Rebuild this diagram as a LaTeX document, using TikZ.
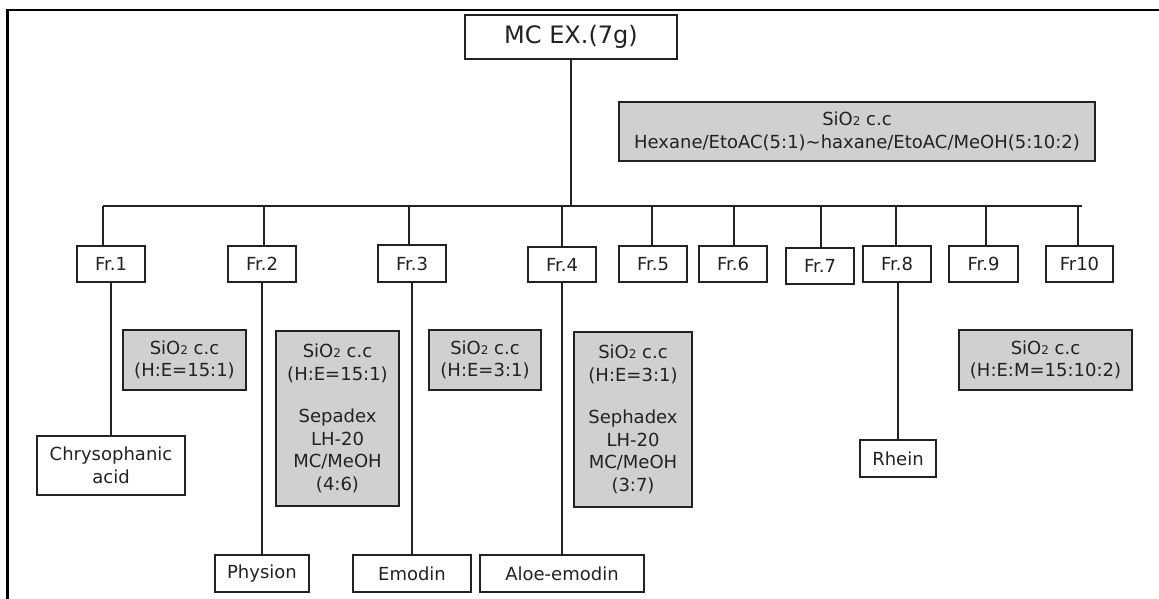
\documentclass[tikz,border=0pt]{standalone}
\usepackage{fontspec}
\setmainfont{DejaVu Sans}
\definecolor{ink}{RGB}{34,34,34}
\definecolor{boxgrey}{RGB}{208,208,208}
% box from its left, top, right and bottom edges
\newcommand\bx[6]{\node[#1, minimum width={(#5-#3)*1pt}, minimum height={(#6-#4)*1pt}] (#2) at ({(#3+#5)/2},{(#4+#6)/2}) }
\newcommand\sio{SiO{\fontsize{12}{12}\selectfont 2}}
\begin{document}
\begin{tikzpicture}[x=1pt, y=-1pt,
  every node/.style={font=\fontsize{18}{22.5}\selectfont, text=ink, inner sep=0pt, align=center},
  plain/.style={draw=ink, line width=1.4pt, fill=white},
  grey/.style={draw=ink, line width=1.4pt, fill=boxgrey},
  link/.style={draw=ink, line width=1.3pt},
  frame/.style={draw=black, line width=2.2pt}]
\useasboundingbox (0,0) rectangle (1159,599);
\draw[frame] (7.5,599) -- (7.5,10) -- (1159,10);

% source and first column
\bx{plain, font=\fontsize{24}{28}\selectfont}{mc}{465}{15}{677}{59} {MC EX.(7g)};
\bx{grey}{cc0}{619}{102}{1095}{161} {\sio\ c.c\\Hexane/EtoAC(5:1)\textasciitilde haxane/EtoAC/MeOH(5:10:2)};

% fractions
\bx{plain}{fr1}{77}{246}{145}{282} {Fr.1};
\bx{plain}{fr2}{228}{246}{296}{282} {Fr.2};
\bx{plain}{fr3}{378}{245}{446}{282} {Fr.3};
\bx{plain}{fr4}{528}{247}{596}{282} {Fr.4};
\bx{plain}{fr5}{619}{246}{687}{282} {Fr.5};
\bx{plain}{fr6}{699}{246}{767}{282} {Fr.6};
\bx{plain}{fr7}{786}{248}{854}{284} {Fr.7};
\bx{plain}{fr8}{863}{246}{931}{282} {Fr.8};
\bx{plain}{fr9}{949}{246}{1018}{282} {Fr.9};
\bx{plain}{fr10}{1046}{246}{1113}{282} {Fr10};

% separation conditions
\bx{grey}{cc1}{123}{330}{246}{390} {\sio\ c.c\\(H:E=15:1)};
\bx{grey}{cc2}{276}{331}{399}{506} {\sio\ c.c\\(H:E=15:1)\\[20pt]Sepadex\\LH-20\\MC/MeOH\\(4:6)};
\bx{grey}{cc3}{429}{330}{541}{390} {\sio\ c.c\\(H:E=3:1)};
\bx{grey}{cc4}{574}{332}{692}{507} {\sio\ c.c\\(H:E=3:1)\\[20pt]Sephadex\\LH-20\\MC/MeOH\\(3:7)};
\bx{grey}{cc9}{959}{330}{1132}{390} {\sio\ c.c\\(H:E:M=15:10:2)};

% isolated compounds
\bx{plain}{chry}{37}{436}{185}{495} {Chrysophanic\\acid};
\bx{plain}{phys}{215}{555}{309}{592} {Physion};
\bx{plain}{emod}{353}{555}{471}{592} {Emodin};
\bx{plain}{aloe}{480}{555}{644}{592} {Aloe-emodin};
\bx{plain}{rhein}{860}{440}{936}{477} {Rhein};

% distribution bus
\coordinate (busL) at (103,206);
\coordinate (busR) at (1082,206);
\draw[link] (mc.south) -- (mc.south |- busL);
\draw[link] (busL) -- (busR);
\foreach \f/\x in {fr1/103, fr2/264, fr3/409, fr4/562, fr5/652, fr6/734, fr7/821, fr8/896, fr9/986, fr10/1078}{
  \coordinate (d) at (\x,206);
  \draw[link] (d) -- (d |- \f.north);
}

% fraction to compound
\draw[link] (chry.north |- fr1.south) -- (chry.north);
\draw[link] (phys.north |- fr2.south) -- (phys.north);
\draw[link] (emod.north |- fr3.south) -- (emod.north);
\draw[link] (aloe.north |- fr4.south) -- (aloe.north);
\draw[link] (rhein.north |- fr8.south) -- (rhein.north);
\end{tikzpicture}
\end{document}
